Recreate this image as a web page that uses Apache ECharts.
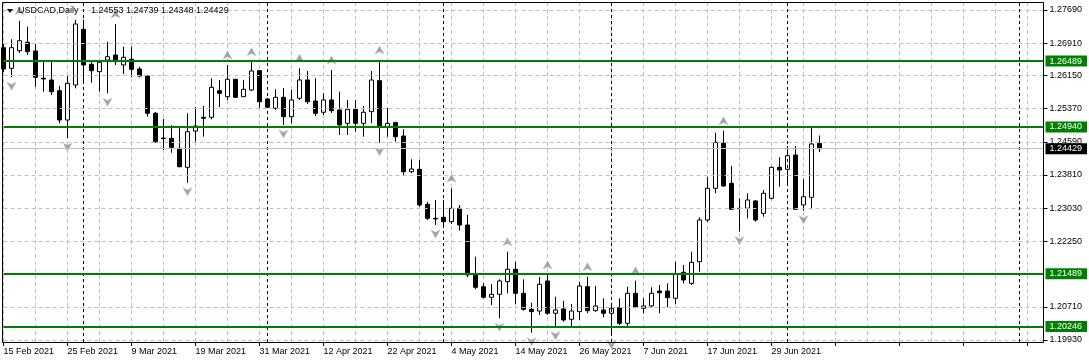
<!DOCTYPE html>
<html><head><meta charset="utf-8">
<script src="https://cdn.jsdelivr.net/npm/echarts@6/dist/echarts.min.js"></script>
<style>html,body{margin:0;padding:0;background:#fff}#c{width:1089px;height:364px}</style>
</head><body><div id="c"></div>
<script>
const symbolName = 'USDCAD,Daily';
const headerPrices = '1.24553 1.24739 1.24348 1.24429';
const firstDate = '2021-02-15';
const totalSlots = 131;

const open = [1.26804,1.26319,1.26733,1.26931,1.26726,1.26084,1.26044,1.25792,1.25103,1.25926,
1.27236,1.26413,1.26239,1.26514,1.26632,1.26397,1.26531,1.26303,1.26138,1.25261,
1.24680,1.24673,1.24438,1.23991,1.24845,1.25167,1.25167,1.25792,1.25651,1.26060,
1.25651,1.25809,1.26263,1.25597,1.25379,1.25637,1.25181,1.25614,1.26044,1.25550,
1.25285,1.25574,1.25339,1.25026,1.25355,1.25026,1.25299,1.26028,1.24946,1.25040,
1.24727,1.23888,1.23944,1.23121,1.22792,1.22815,1.22712,1.23027,1.22634,1.21459,
1.21184,1.20934,1.21005,1.21301,1.21593,1.21028,1.20652,1.20612,1.21318,1.20558,
1.20659,1.20417,1.20596,1.21184,1.20619,1.20636,1.20558,1.20690,1.20323,1.21028,
1.20676,1.20730,1.21082,1.21082,1.20911,1.21522,1.21263,1.21771,1.22752,1.23497,
1.24556,1.23615,1.23027,1.23027,1.23199,1.22909,1.23262,1.23991,1.23944,1.24280,
1.23105,1.23286,1.24553];
const high = [1.26891,1.27001,1.27438,1.27297,1.26891,1.26474,1.26474,1.25903,1.26138,1.27455,
1.27467,1.26514,1.26514,1.26945,1.27361,1.26827,1.26827,1.26357,1.26162,1.25292,
1.25127,1.24986,1.24915,1.25261,1.25409,1.25433,1.26084,1.26044,1.26397,1.26068,
1.26044,1.26474,1.26279,1.25621,1.25825,1.25856,1.25809,1.26319,1.26256,1.26084,
1.25731,1.26279,1.25769,1.25574,1.25574,1.25433,1.26256,1.26514,1.25386,1.25063,
1.24885,1.24179,1.24163,1.23182,1.23222,1.23222,1.23497,1.23105,1.22869,1.21889,
1.21263,1.21247,1.21357,1.22007,1.21771,1.21357,1.20807,1.21412,1.21459,1.20948,
1.20854,1.20777,1.21301,1.21419,1.21200,1.20911,1.20807,1.20911,1.21184,1.21325,
1.20911,1.21169,1.21223,1.21263,1.21771,1.21694,1.22007,1.22815,1.23770,1.24805,
1.24852,1.24022,1.23262,1.23380,1.23222,1.23457,1.24005,1.24226,1.24492,1.24492,
1.23709,1.24932,1.24739];
const low = [1.26232,1.26107,1.26679,1.26632,1.25886,1.25769,1.25691,1.25026,1.24680,1.25849,
1.25981,1.25981,1.25769,1.25731,1.26397,1.26185,1.26107,1.26107,1.25181,1.24563,
1.24398,1.24334,1.23991,1.23629,1.24593,1.24711,1.25120,1.25402,1.25574,1.25621,
1.25644,1.25785,1.25379,1.25386,1.25339,1.24986,1.25026,1.25574,1.25480,1.25197,
1.25221,1.25268,1.24751,1.24751,1.24828,1.24711,1.25026,1.24570,1.24711,1.24593,
1.23810,1.23850,1.23065,1.22752,1.22634,1.22594,1.22658,1.22500,1.21405,1.21122,
1.20911,1.20753,1.20440,1.21028,1.20777,1.20619,1.20102,1.20518,1.20518,1.20243,
1.20360,1.20243,1.20400,1.20558,1.20596,1.20464,1.20024,1.20283,1.20229,1.20676,
1.20558,1.20699,1.20558,1.20699,1.20777,1.21263,1.21223,1.21536,1.22705,1.23380,
1.23535,1.22987,1.22477,1.22792,1.22712,1.22830,1.23239,1.23535,1.23598,1.22987,
1.22971,1.23004,1.24348];
const close = [1.26303,1.26804,1.26968,1.26709,1.26107,1.26068,1.25769,1.25103,1.25966,1.27361,
1.26397,1.26263,1.26460,1.26592,1.26474,1.26578,1.26296,1.26138,1.25261,1.24593,
1.24666,1.24461,1.24005,1.24828,1.24962,1.25143,1.25872,1.25731,1.26060,1.25637,
1.25825,1.26256,1.25534,1.25402,1.25637,1.25181,1.25574,1.26044,1.25534,1.25261,
1.25574,1.25322,1.24986,1.25355,1.25026,1.25285,1.26044,1.24946,1.25026,1.24711,
1.23888,1.23951,1.23105,1.22792,1.22775,1.22712,1.23027,1.22634,1.21459,1.21169,
1.20934,1.21005,1.21318,1.21593,1.21028,1.20652,1.20596,1.21240,1.20558,1.20636,
1.20400,1.20612,1.21200,1.20619,1.20730,1.20558,1.20676,1.20323,1.21028,1.20699,
1.20730,1.21028,1.21042,1.20925,1.21482,1.21341,1.21757,1.22752,1.23497,1.24579,
1.23551,1.23004,1.23020,1.23222,1.22752,1.23380,1.23991,1.23928,1.24264,1.23004,
1.23300,1.24539,1.24429];

const upFractals = [2,14,28,31,37,41,47,56,63,68,73,79,90];
const downFractals = [1,8,13,23,35,47,54,62,66,69,76,92,100];
const levels = [1.26489, 1.24940, 1.21489, 1.20246];
const bidPrice = 1.24429;
const priceTicks = [1.27690,1.26910,1.26150,1.25370,1.24590,1.23810,1.23030,1.22250,1.20710,1.19930];
const gridPrices = [1.27690,1.26910,1.26150,1.25370,1.24590,1.23810,1.23030,1.22250,1.21480,1.20710,1.19930];
const monthSeparators = [10,33,55,76,98,127];
const yMin = 1.19883, yMax = 1.27878;

const MONTHS = ['Jan','Feb','Mar','Apr','May','Jun','Jul','Aug','Sep','Oct','Nov','Dec'];
const categories = [];
{
  const d = new Date(firstDate + 'T00:00:00Z');
  while (categories.length < totalSlots) {
    const wd = d.getUTCDay();
    if (wd !== 0 && wd !== 6) categories.push(d.getUTCDate() + ' ' + MONTHS[d.getUTCMonth()] + ' ' + d.getUTCFullYear());
    d.setUTCDate(d.getUTCDate() + 1);
  }
}
const candleData = open.map((o, i) => [o, close[i], low[i], high[i]]);
const FONT = '"Liberation Sans", Arial, sans-serif';

const chart = echarts.init(document.getElementById('c'), null, {renderer: 'canvas'});
chart.setOption({
  animation: false,
  backgroundColor: '#fff',
  grid: {left: 3.5, top: 2, width: 1040, bottom: 22, containLabel: false},
  xAxis: {
    type: 'category', data: categories, boundaryGap: false,
    axisLine: {show: false},
    axisTick: {show: true, interval: 7, length: 4, lineStyle: {color: '#000'}},
    axisLabel: {interval: 7, align: 'left', margin: 5, fontSize: 9, fontFamily: FONT, color: '#000',
      formatter: (v, i) => i < open.length ? v : ''},
    splitLine: {show: true, interval: 3, lineStyle: {color: '#c0c0c0', type: [4, 3], width: 1}}
  },
  yAxis: {
    type: 'value', position: 'right', min: yMin, max: yMax, scale: true,
    axisLine: {show: false},
    splitLine: {show: false},
    axisTick: {show: true, length: 4, lineStyle: {color: '#000'}, customValues: priceTicks},
    axisLabel: {margin: 6, fontSize: 9, fontFamily: FONT, color: '#000', customValues: priceTicks,
      formatter: v => Number(v).toFixed(5)}
  },
  graphic: [
    {type: 'rect', z: 100, shape: {x: 2.5, y: 2.5, width: 1041, height: 340}, style: {fill: 'none', stroke: '#000', lineWidth: 1}},
    {type: 'polygon', z: 100, shape: {points: [[7, 9], [13, 9], [10, 13]]}, style: {fill: '#000'}},
    {type: 'text', z: 100, x: 18, y: 11, style: {text: symbolName, font: '9px ' + FONT, fill: '#000', verticalAlign: 'middle'}},
    {type: 'text', z: 100, x: 91, y: 11, style: {text: headerPrices, font: '9px ' + FONT, fill: '#000', verticalAlign: 'middle'}}
  ],
  series: [
    {
      type: 'line', data: [], z: 1, silent: true,
      markLine: {silent: true, symbol: 'none', animation: false, precision: 5,
        lineStyle: {color: '#c0c0c0', type: [4, 3], width: 1}, label: {show: false},
        data: gridPrices.map(v => ({yAxis: v}))}
    },
    {
      type: 'line', data: [], z: 1.5, silent: true,
      markLine: {silent: true, symbol: 'none', animation: false,
        lineStyle: {color: '#000', type: [3, 3], width: 1}, label: {show: false},
        data: monthSeparators.map(i => ({xAxis: i}))}
    },
    {
      type: 'candlestick', data: candleData, barWidth: 4, clip: false, z: 2,
      itemStyle: {color: '#fff', color0: '#000', borderColor: '#000', borderColor0: '#000', borderWidth: 1},
      emphasis: {disabled: true}
    },
    {
      type: 'scatter', z: 4, silent: true,
      data: upFractals.map(i => [i, high[i]]),
      symbol: 'path://M5,0 L10,9 L5,6.5 L0,9 Z', symbolSize: [9, 8], symbolOffset: [0, -10],
      itemStyle: {color: '#8c8c8c', borderColor: '#a8b8c8', borderWidth: 0.5}
    },
    {
      type: 'scatter', z: 4, silent: true,
      data: downFractals.map(i => [i, low[i]]),
      symbol: 'path://M0,0 L5,2.5 L10,0 L5,9 Z', symbolSize: [9, 8], symbolOffset: [0, 9],
      itemStyle: {color: '#8c8c8c', borderColor: '#a8b8c8', borderWidth: 0.5}
    },
    {
      type: 'line', data: [], z: 5, silent: true,
      markLine: {silent: true, symbol: 'none', animation: false, precision: 5,
        lineStyle: {color: '#c0c0c0', type: 'solid', width: 1},
        label: {show: true, position: 'end', distance: 2, formatter: p => Number(p.value).toFixed(5),
          color: '#fff', backgroundColor: '#000', padding: [1, 5, 1, 4], fontSize: 9, lineHeight: 9, fontFamily: FONT},
        data: [{yAxis: bidPrice}]}
    },
    {
      type: 'line', data: [], z: 6, silent: true,
      markLine: {silent: true, symbol: 'none', animation: false, precision: 5,
        lineStyle: {color: '#008000', type: 'solid', width: 2},
        label: {show: true, position: 'end', distance: 2, formatter: p => Number(p.value).toFixed(5),
          color: '#fff', backgroundColor: '#008000', padding: [1, 5, 1, 4], fontSize: 9, lineHeight: 9, fontFamily: FONT},
        data: levels.map(v => ({yAxis: v}))}
    }
  ]
});
</script></body></html>
